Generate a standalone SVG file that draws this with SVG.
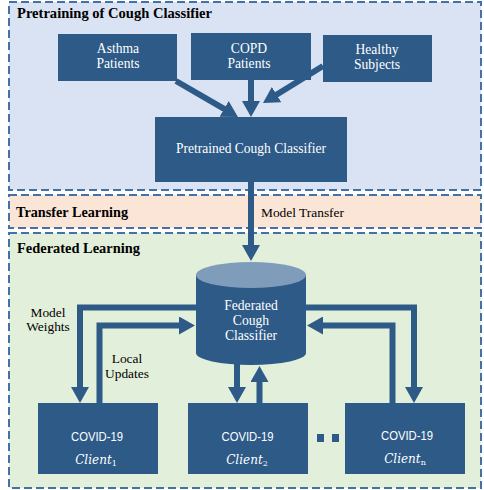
<svg xmlns="http://www.w3.org/2000/svg" width="484" height="490" viewBox="0 0 484 490">
<style>
.panel{stroke:#4472a6;stroke-width:2;stroke-dasharray:8 4}
.box{fill:#2d5a87}
.wt{fill:#ffffff;font-family:"Liberation Serif","Times New Roman",serif;font-size:13.6px;text-anchor:middle}
.ct{fill:#ffffff;font-family:"Liberation Sans",Arial,sans-serif;font-size:12.5px;text-anchor:middle}
.ci{fill:#ffffff;font-family:"DejaVu Serif",serif;font-style:italic;font-size:12px;text-anchor:middle}
.hd{fill:#000;font-family:"Liberation Serif","Times New Roman",serif;font-size:14.6px;font-weight:bold}
.lb{fill:#000;font-family:"Liberation Serif","Times New Roman",serif;font-size:13.4px;text-anchor:middle}
.ar{fill:none;stroke:#2d5a87;stroke-width:6}
</style>
<defs>
<marker id="ah" markerUnits="userSpaceOnUse" markerWidth="16" markerHeight="18" viewBox="0 0 16 18" refX="4" refY="9" orient="auto">
<path d="M0,0 L16,9 L0,18 z" fill="#2d5a87"/>
</marker>
</defs>
<g id="panel-pretraining">
<rect class="panel" x="9" y="2" width="472" height="188" fill="#dae3f3"/>
<text class="hd" x="17" y="18" textLength="195" lengthAdjust="spacingAndGlyphs">Pretraining of Cough Classifier</text>
</g>
<g id="panel-transfer">
<rect class="panel" x="9" y="195" width="472" height="33" fill="#fbe5d6"/>
<text class="hd" x="16" y="217" textLength="112" lengthAdjust="spacingAndGlyphs">Transfer Learning</text>
<text class="lb" x="261" y="217" style="text-anchor:start" textLength="83" lengthAdjust="spacingAndGlyphs">Model Transfer</text>
</g>
<g id="panel-federated">
<rect class="panel" x="9" y="233" width="472" height="255" fill="#e2efda"/>
<text class="hd" x="17" y="253" textLength="123" lengthAdjust="spacingAndGlyphs">Federated Learning</text>
</g>
<g id="asthma">
<rect class="box" x="58" y="34" width="119" height="47"/>
<text class="wt" x="118" y="53">Asthma</text>
<text class="wt" x="118" y="68">Patients</text>
</g>
<g id="copd">
<rect class="box" x="191" y="33" width="120" height="47"/>
<text class="wt" x="249" y="53">COPD</text>
<text class="wt" x="249" y="68">Patients</text>
</g>
<g id="healthy">
<rect class="box" x="323" y="35" width="109" height="47"/>
<text class="wt" x="377" y="54">Healthy</text>
<text class="wt" x="377" y="69">Subjects</text>
</g>
<g id="pretrained">
<rect class="box" x="155" y="117" width="192" height="65"/>
<text class="wt" x="251" y="153" textLength="150" lengthAdjust="spacingAndGlyphs">Pretrained Cough Classifier</text>
</g>
<g id="federated">
<path class="box" d="M196,275 V353 A55,12 0 0 0 306,353 V275 z"/>
<ellipse cx="251" cy="275" rx="55" ry="13" fill="#7f9cba"/>
<text class="wt" x="251" y="310">Federated</text>
<text class="wt" x="251" y="325">Cough</text>
<text class="wt" x="251" y="340">Classifier</text>
</g>
<g id="client1">
<rect class="box" x="38" y="403" width="120" height="71"/>
<text class="ct" x="97" y="441" textLength="52" lengthAdjust="spacingAndGlyphs">COVID-19</text>
<text class="ci" x="96" y="464">Client<tspan font-size="8" font-style="normal" dy="2">1</tspan></text>
</g>
<g id="client2">
<rect class="box" x="188" y="403" width="120" height="71"/>
<text class="ct" x="247.5" y="441" textLength="52" lengthAdjust="spacingAndGlyphs">COVID-19</text>
<text class="ci" x="247" y="464">Client<tspan font-size="8" font-style="normal" dy="2">2</tspan></text>
</g>
<g id="clientn">
<rect class="box" x="345" y="403" width="120" height="71"/>
<text class="ct" x="407" y="440" textLength="52" lengthAdjust="spacingAndGlyphs">COVID-19</text>
<text class="ci" x="405" y="463">Client<tspan font-size="8" font-style="normal" dy="2">n</tspan></text>
</g>
<g id="dots">
<rect class="box" x="317" y="434" width="7" height="8"/>
<rect class="box" x="332" y="434" width="7" height="8"/>
</g>
<g id="connectors">
<path class="ar" marker-end="url(#ah)" d="M176,81 L227.6,110.9"/>
<path class="ar" marker-end="url(#ah)" d="M251,80 V105"/>
<path class="ar" marker-end="url(#ah)" d="M323,66 L273.2,96.7"/>
<path class="ar" marker-end="url(#ah)" d="M251,182 V249"/>
<path class="ar" marker-end="url(#ah)" d="M196,307.5 H80 V391"/>
<path class="ar" marker-end="url(#ah)" d="M306,307.5 H414 V391"/>
<path class="ar" marker-end="url(#ah)" d="M99.5,403 V325.5 H183"/>
<path class="ar" marker-end="url(#ah)" d="M392.5,403 V325.5 H319"/>
<path class="ar" marker-end="url(#ah)" d="M237,364 V391"/>
<path class="ar" marker-end="url(#ah)" d="M259.5,403 V378"/>
</g>
<g id="labels">
<text class="lb" x="48" y="317">Model</text>
<text class="lb" x="48" y="331">Weights</text>
<text class="lb" x="127" y="363">Local</text>
<text class="lb" x="127" y="378">Updates</text>
</g>
</svg>
